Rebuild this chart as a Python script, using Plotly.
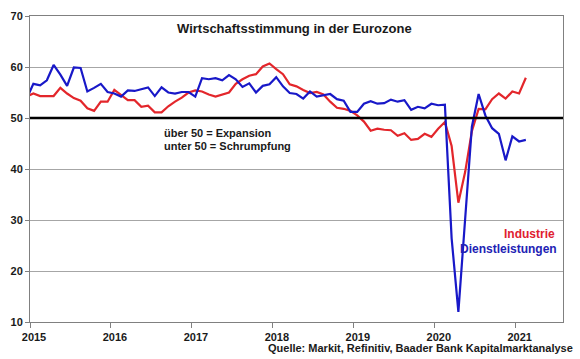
import plotly.graph_objects as go
import pandas as pd

# Monthly PMI values, Dec 2014 .. Feb 2021
industrie = [54.2,
    54.8, 54.3, 54.3, 54.3, 55.9, 54.8, 53.9, 53.4, 51.9, 51.4, 53.2, 53.2,
    55.5, 54.5, 53.5, 53.5, 52.2, 52.4, 51.1, 51.1, 52.3, 53.2, 54.0, 55.0,
    55.4, 55.2, 54.6, 54.2, 54.6, 55.0, 56.7, 57.6, 58.3, 58.6, 60.1, 60.7,
    59.6, 58.6, 56.6, 56.2, 55.5, 54.9, 55.1, 54.6, 53.2, 52.0, 51.8, 51.4,
    50.5, 49.3, 47.5, 47.9, 47.7, 47.6, 46.5, 47.0, 45.7, 45.9, 46.9, 46.3,
    47.9, 49.2, 44.5, 33.4, 39.4, 47.4, 51.8, 51.7, 53.7, 54.8, 53.8, 55.2,
    54.8, 57.9]

dienstleistungen = [53.8,
    56.7, 56.4, 57.4, 60.4, 58.5, 56.3, 59.9, 59.8, 55.2, 55.9, 56.7, 55.1,
    54.8, 54.2, 55.4, 55.3, 55.6, 56.0, 54.3, 56.0, 55.0, 54.8, 55.1, 55.1,
    54.2, 57.8, 57.6, 57.8, 57.4, 58.4, 57.6, 56.1, 56.8, 55.0, 56.3, 56.6,
    58.0, 56.2, 54.9, 54.7, 53.8, 55.2, 54.2, 54.4, 54.7, 53.7, 53.4, 51.2,
    51.2, 52.8, 53.3, 52.8, 52.9, 53.6, 53.2, 53.5, 51.6, 52.2, 51.9, 52.8,
    52.5, 52.6, 26.4, 12.0, 30.5, 48.3, 54.7, 50.5, 48.0, 46.9, 41.7, 46.4,
    45.4, 45.7]

months = pd.period_range("2014-12", "2021-02", freq="M")
x = [p.year + (p.month - 0.5) / 12 for p in months]

years = [2015, 2016, 2017, 2018, 2019, 2020, 2021]
y_ticks = [10, 20, 30, 40, 50, 60, 70]

FONT = "Liberation Sans, Arial, sans-serif"
RED = "#E3262B"
BLUE = "#1818C8"

fig = go.Figure()
fig.add_trace(go.Scatter(x=x, y=industrie, mode="lines", name="Industrie",
                         line=dict(color=RED, width=2.2)))
fig.add_trace(go.Scatter(x=x, y=dienstleistungen, mode="lines", name="Dienstleistungen",
                         line=dict(color=BLUE, width=2.2)))

fig.add_shape(type="line", xref="paper", x0=0, x1=1, yref="y", y0=50, y1=50,
              line=dict(color="black", width=2.6), layer="above")

fig.update_layout(
    width=580, height=359,
    margin=dict(l=30, r=17, t=10, b=37),
    paper_bgcolor="white", plot_bgcolor="white",
    showlegend=False,
    font=dict(family=FONT, color="#1a1a1a"),
    xaxis=dict(range=[2015, 2021.584], tickvals=years, ticktext=[str(y) for y in years],
               ticks="outside", ticklen=5, tickcolor="#808080",
               showline=True, linecolor="#808080", linewidth=1, mirror=True,
               showgrid=False, zeroline=False, ticklabelshift=4,
               tickfont=dict(family=FONT, size=11, weight="bold", color="#1a1a1a")),
    yaxis=dict(range=[10, 70], tickvals=y_ticks,
               ticks="outside", ticklen=4, tickcolor="#808080",
               showline=True, linecolor="#808080", linewidth=1, mirror=True,
               showgrid=True, gridcolor="#A6A6A6", gridwidth=1, zeroline=False,
               tickfont=dict(family=FONT, size=11, weight="bold", color="#1a1a1a")),
)

anns = [
    dict(text="<b>Wirtschaftsstimmung in der Eurozone</b>", xref="paper", yref="paper",
         x=0.497, y=0.9606, xanchor="center", yanchor="middle", font=dict(size=13)),
    dict(text="<b>über 50 = Expansion</b>", xref="x", yref="y", x=2016.626, y=47.0,
         xanchor="left", yanchor="middle", font=dict(size=11)),
    dict(text="<b>unter 50 = Schrumpfung</b>", xref="x", yref="y", x=2016.626, y=44.5,
         xanchor="left", yanchor="middle", font=dict(size=11)),
    dict(text="<b>Industrie</b>", xref="x", yref="y", x=2021.51, y=27.2,
         xanchor="right", yanchor="middle", font=dict(size=12, color="#E02030")),
    dict(text="<b>Dienstleistungen</b>", xref="x", yref="y", x=2021.54, y=24.4,
         xanchor="right", yanchor="middle", font=dict(size=12, color="#2222B4")),
    dict(text="<b>Quelle: Markit, Refinitiv, Baader Bank Kapitalmarktanalyse</b>",
         xref="paper", yref="paper", x=1.022, y=-0.085, xanchor="right", yanchor="middle",
         font=dict(size=11)),
]
for a in anns:
    a["showarrow"] = False
    fig.add_annotation(**a)

fig.write_html("out.html", config={"displayModeBar": False},
               post_script="document.body.style.margin='0';")
